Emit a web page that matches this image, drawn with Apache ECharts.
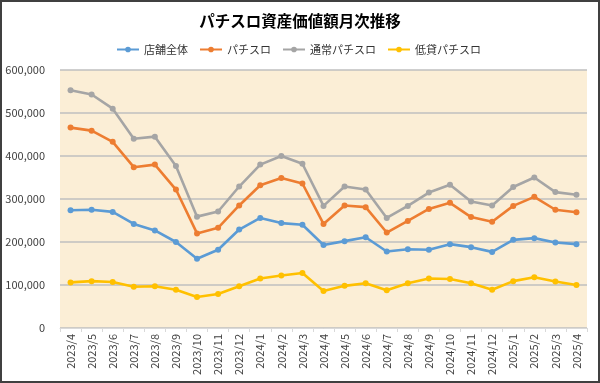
<!DOCTYPE html>
<html><head><meta charset="utf-8">
<script src="https://cdn.jsdelivr.net/npm/echarts@6/dist/echarts.min.js"></script>
<style>html,body{margin:0;padding:0;background:#fff}#c{width:600px;height:383px}</style>
</head><body><div id="c"></div>
<script>
const categories = ['2023/4','2023/5','2023/6','2023/7','2023/8','2023/9','2023/10','2023/11','2023/12','2024/1','2024/2','2024/3','2024/4','2024/5','2024/6','2024/7','2024/8','2024/9','2024/10','2024/11','2024/12','2025/1','2025/2','2025/3','2025/4'];
const tenpoZentai = [274000,275000,270000,242000,227000,200000,161000,182000,229000,256000,244000,240000,193000,202000,211000,178000,183000,182000,195000,188000,177000,205000,209000,199000,195000];
const pachislo = [466000,459000,433000,374000,380000,322000,220000,233000,285000,332000,349000,336000,242000,285000,281000,222000,249000,277000,291000,258000,247000,284000,305000,275000,269000];
const tsujoPachislo = [553000,543000,510000,440000,445000,377000,259000,271000,329000,380000,400000,382000,284000,329000,322000,256000,284000,315000,333000,294000,285000,328000,350000,316000,310000];
const teikashiPachislo = [106000,109000,107000,96000,97000,89000,72000,79000,97000,115000,122000,128000,86000,98000,104000,88000,104000,115000,114000,104000,89000,109000,118000,108000,100000];
const yTicks = [0,100000,200000,300000,400000,500000,600000];

const font = '"Noto Sans CJK JP","Noto Sans",sans-serif';
const chart = echarts.init(document.getElementById('c'));
function s(name, data, color){
  return {name, type:'line', data, symbol:'circle', symbolSize:6,
    lineStyle:{color, width:2.6}, itemStyle:{color}};
}
chart.setOption({
  animation:false,
  textStyle:{fontFamily:font},
  title:{text:'パチスロ資産価値額月次推移', left:'center', top:8,
    textStyle:{fontSize:15.5, fontWeight:'bold', color:'#000', fontFamily:font}},
  legend:{top:39, left:111, itemWidth:22, itemHeight:7, itemGap:11,
    textStyle:{fontSize:11, color:'#333', fontFamily:font},
    data:['店舗全体','パチスロ','通常パチスロ','低貸パチスロ']},
  grid:{left:60, right:13, top:70, bottom:55, show:true, backgroundColor:'#FBEED6', borderWidth:0},
  xAxis:{type:'category', data:categories, boundaryGap:true,
    axisLine:{lineStyle:{color:'#D9D9D9', width:1}},
    axisTick:{show:true, length:4, lineStyle:{color:'#D9D9D9'}},
    axisLabel:{rotate:90, fontSize:11, color:'#404040', margin:6, interval:0, fontFamily:font}},
  yAxis:{type:'value', min:yTicks[0], max:yTicks[yTicks.length-1], interval:100000,
    axisLine:{show:false}, axisTick:{show:false},
    splitLine:{lineStyle:{color:'#BFBFBF', width:1.5}},
    axisLabel:{fontSize:11, color:'#404040', margin:15, fontFamily:font,
      formatter:v=>v.toLocaleString('en-US')}},
  graphic:[{type:'rect', shape:{x:1,y:1,width:598,height:381}, style:{fill:'none', stroke:'#404040', lineWidth:2}, z:100}],
  series:[
    s('店舗全体', tenpoZentai, '#5B9BD5'),
    s('パチスロ', pachislo, '#ED7D31'),
    s('通常パチスロ', tsujoPachislo, '#A5A5A5'),
    s('低貸パチスロ', teikashiPachislo, '#FFC000')
  ]
});
</script></body></html>
